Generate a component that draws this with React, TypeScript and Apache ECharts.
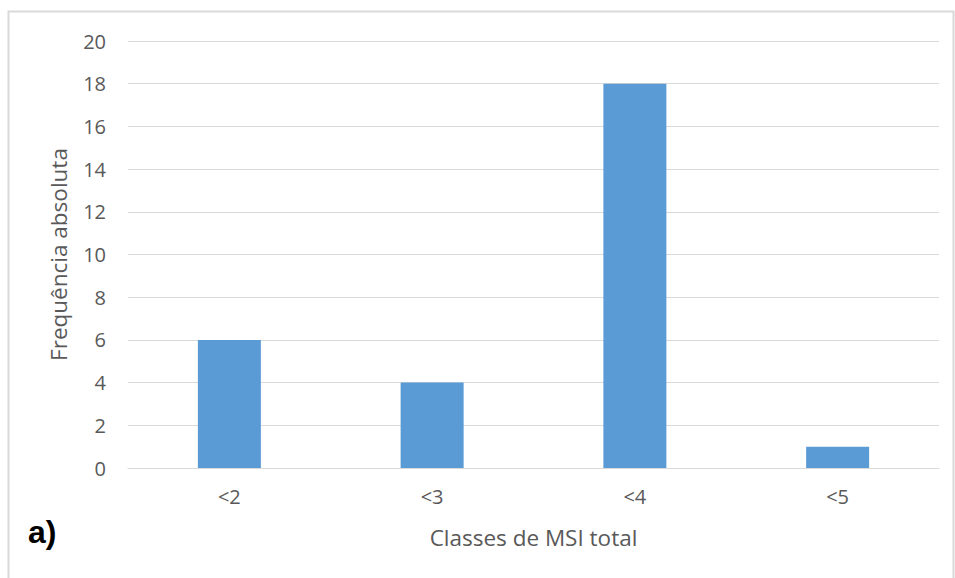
import React, { useEffect, useRef } from "react";
import * as echarts from "echarts";

const categories = ["<2", "<3", "<4", "<5"];
const values = [6, 4, 18, 1];
const yTicks = { min: 0, max: 20, interval: 2 };

export default function App() {
  const ref = useRef<HTMLDivElement>(null);
  useEffect(() => {
    const chart = echarts.init(ref.current!, null, { renderer: "svg" });
    const font = "Open Sans, Liberation Sans, sans-serif";
    chart.setOption({
      animation: false,
      backgroundColor: "#ffffff",
      textStyle: { fontFamily: font },
      grid: { left: 128, right: 16, top: 41, bottom: 110 },
      xAxis: {
        type: "category",
        data: categories,
        axisLine: { show: true, lineStyle: { color: "#d9d9d9", width: 1 } },
        axisTick: { show: false },
        axisLabel: { color: "#595959", fontSize: 20, margin: 18, fontFamily: font },
        name: "Classes de MSI total",
        nameLocation: "middle",
        nameGap: 58,
        nameTextStyle: { color: "#595959", fontSize: 22.5, fontFamily: font },
      },
      yAxis: {
        type: "value",
        min: yTicks.min,
        max: yTicks.max,
        interval: yTicks.interval,
        axisLine: { show: false },
        axisTick: { show: false },
        splitLine: { lineStyle: { color: "#d9d9d9", width: 1 } },
        axisLabel: { color: "#595959", fontSize: 20, margin: 22, fontFamily: font },
        name: "Frequência absoluta",
        nameLocation: "middle",
        nameGap: 58,
        nameRotate: 90,
        nameTextStyle: { color: "#595959", fontSize: 22.5, fontFamily: font },
      },
      series: [
        {
          type: "bar",
          data: values,
          barWidth: 63,
          itemStyle: { color: "#5b9bd5" },
        },
      ],
      graphic: [
        {
          type: "rect",
          shape: { x: 8.5, y: 11.5, width: 945, height: 580 },
          style: { fill: "none", stroke: "#d9d9d9", lineWidth: 2 },
          silent: true,
        },
        {
          type: "text",
          left: 28,
          top: 516,
          style: {
            text: "a)",
            font: "bold 32px Liberation Sans, Arial, sans-serif",
            fill: "#000000",
          },
        },
      ],
    });
    return () => chart.dispose();
  }, []);
  return (
    <div
      ref={ref}
      style={{ position: "absolute", left: 0, top: 0, width: 955, height: 578 }}
    />
  );
}
